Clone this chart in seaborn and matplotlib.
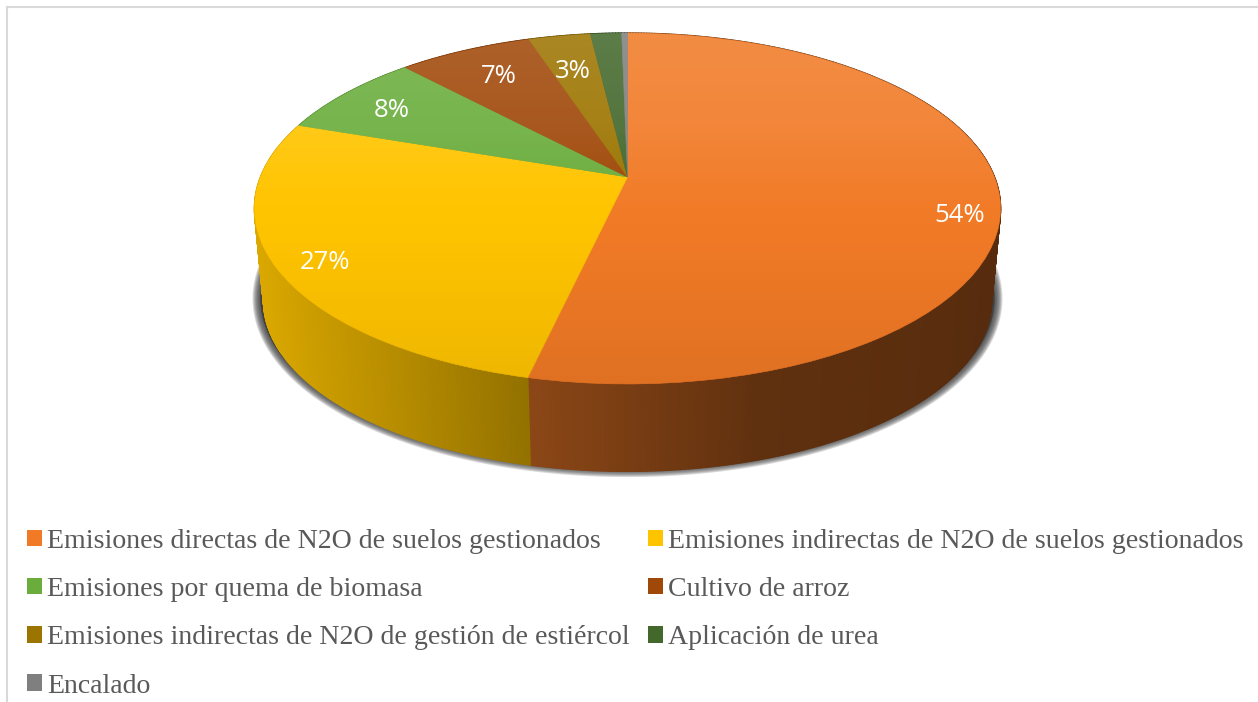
import numpy as np
import matplotlib
matplotlib.use("Agg")
import matplotlib.pyplot as plt
import seaborn as sns
from matplotlib.collections import PolyCollection
from matplotlib.patches import Circle, Patch, Polygon
from matplotlib.transforms import Transform

categories = [
    "Emisiones directas de N2O de suelos gestionados",
    "Emisiones indirectas de N2O de suelos gestionados",
    "Emisiones por quema de biomasa",
    "Cultivo de arroz",
    "Emisiones indirectas de N2O de gestión de estiércol",
    "Aplicación de urea",
    "Encalado",
]
shares = [53.6, 26.6, 7.8, 6.9, 3.2, 1.6, 0.3]
share_labels = ["54%", "27%", "8%", "7%", "3%"]
colors = ["#f17a26", "#ffc400", "#6aad3c", "#a04808", "#9c7400", "#43682b", "#7f7f7f"]

# where each label sits inside its slice (radius, angle nudge in degrees)
label_radius = [0.895, 0.88, 0.82, 0.79, 0.74]
label_nudge = [-6.4, 1.4, 0.4, -1.0, 0.5]


class TiltedDisc(Transform):
    # unit circle seen in perspective, output in image pixels
    input_dims = 2
    output_dims = 2

    def __init__(self, cx, cy, a, b, k):
        super().__init__()
        self.cx, self.cy, self.a, self.b, self.k = cx, cy, a, b, k

    def transform_non_affine(self, values):
        values = np.asarray(values)
        w = 1 + self.k * values[:, 1]
        return np.column_stack((self.cx + self.a * values[:, 0] / w,
                                self.cy - self.b * values[:, 1] / w))


sns.set_theme(style="white")
plt.rcParams["font.family"] = ["Liberation Serif", "DejaVu Serif"]

fig = plt.figure(figsize=(12.58, 7.02), dpi=100)
ax = fig.add_axes([7 / 1258, 0, 1251 / 1258, 695 / 702])

wedges, _ = ax.pie(shares, colors=sns.color_palette(colors), startangle=90, counterclock=False)
ax.set_aspect("auto")
ax.set_xlim(7, 1258)
ax.set_ylim(702, 7)
ax.set_frame_on(True)
for side in ["right", "bottom"]:
    ax.spines[side].set_visible(False)
for side in ["top", "left"]:
    ax.spines[side].set_color("#d9d9d9")
    ax.spines[side].set_linewidth(1.5)

top = TiltedDisc(627.5, 177, 367, 169.8, 0.1795)
bottom = TiltedDisc(627.5, 270, 358, 165.2, 0.1795)


def rim(disc, theta):
    rad = np.deg2rad(theta)
    return disc.transform(np.column_stack((np.cos(rad), np.sin(rad))))


for wedge, color in zip(wedges, colors):
    wedge.set_transform(top + ax.transData)
    wedge.set_edgecolor(color)
    wedge.set_linewidth(0.4)
    wedge.set_zorder(4)

    # side wall, darker towards the right
    theta = np.linspace(wedge.theta1, wedge.theta2, max(3, int((wedge.theta2 - wedge.theta1) * 2)))
    upper, lower = rim(top, theta), rim(bottom, theta)
    quads = [[upper[i], upper[i + 1], lower[i + 1], lower[i]] for i in range(len(theta) - 1)]
    shade = np.interp((upper[:-1, 0] + upper[1:, 0]) / 2, [254, 528, 760, 1002], [0.86, 0.58, 0.40, 0.36])
    faces = np.outer(shade, matplotlib.colors.to_rgb(color))
    ax.add_collection(PolyCollection(quads, facecolors=faces, edgecolors=faces, linewidths=1.0, zorder=3), autolim=False)

# soft shadow under the disc
shadow_low = TiltedDisc(627.5, 268, 361, 165, 0.1795)
shadow_top = TiltedDisc(627.5, 225, 361, 160, 0.1795)
shadow = np.vstack((rim(shadow_low, np.linspace(175, 365, 200)), rim(shadow_top, np.linspace(5, 175, 100))))
for width in np.arange(1, 13, 1.5):
    ax.add_patch(Polygon(shadow, closed=True, facecolor="#3c3c3c", edgecolor="#3c3c3c",
                         linewidth=width, alpha=0.2, joinstyle="round", zorder=2))

# light to dark sheen over the top of the disc
rows = np.linspace(33, 384, 256)
sheen = np.zeros((256, 1, 4))
sheen[:, 0, :3] = np.where(rows[:, None] < 215, 1.0, 0.0)
sheen[:, 0, 3] = np.interp(rows, [33, 130, 215, 384], [0.14, 0.09, 0.0, 0.07])
image = ax.imshow(sheen, extent=(240, 1015, 384, 33), aspect="auto", zorder=5)
disc = Circle((0, 0), 1, transform=top + ax.transData)
image.set_clip_path(disc)
ax.set_xlim(7, 1258)
ax.set_ylim(702, 7)

# percent labels
for i, text in enumerate(share_labels):
    mid = np.deg2rad((wedges[i].theta1 + wedges[i].theta2) / 2 + label_nudge[i])
    pos = top.transform(np.array([[label_radius[i] * np.cos(mid), label_radius[i] * np.sin(mid)]]))[0]
    ax.text(pos[0], pos[1] + 3, text, color="white", fontsize=18.5, family="Open Sans",
            ha="center", va="center", zorder=6)

handles = [Patch(facecolor=c, edgecolor="none") for c in colors]
order = [0, 2, 4, 6, 1, 3, 5]
ax.legend([handles[i] for i in order], [categories[i] for i in order], ncols=2,
          loc="upper left", bbox_to_anchor=(27, 529), bbox_transform=ax.transData,
          frameon=False, fontsize=20.1, labelcolor="#595959", borderpad=0, borderaxespad=0,
          handlelength=0.52, handleheight=0.52, handletextpad=0.2, columnspacing=0.66,
          labelspacing=0.83)

fig.savefig("out.png", dpi=100)
